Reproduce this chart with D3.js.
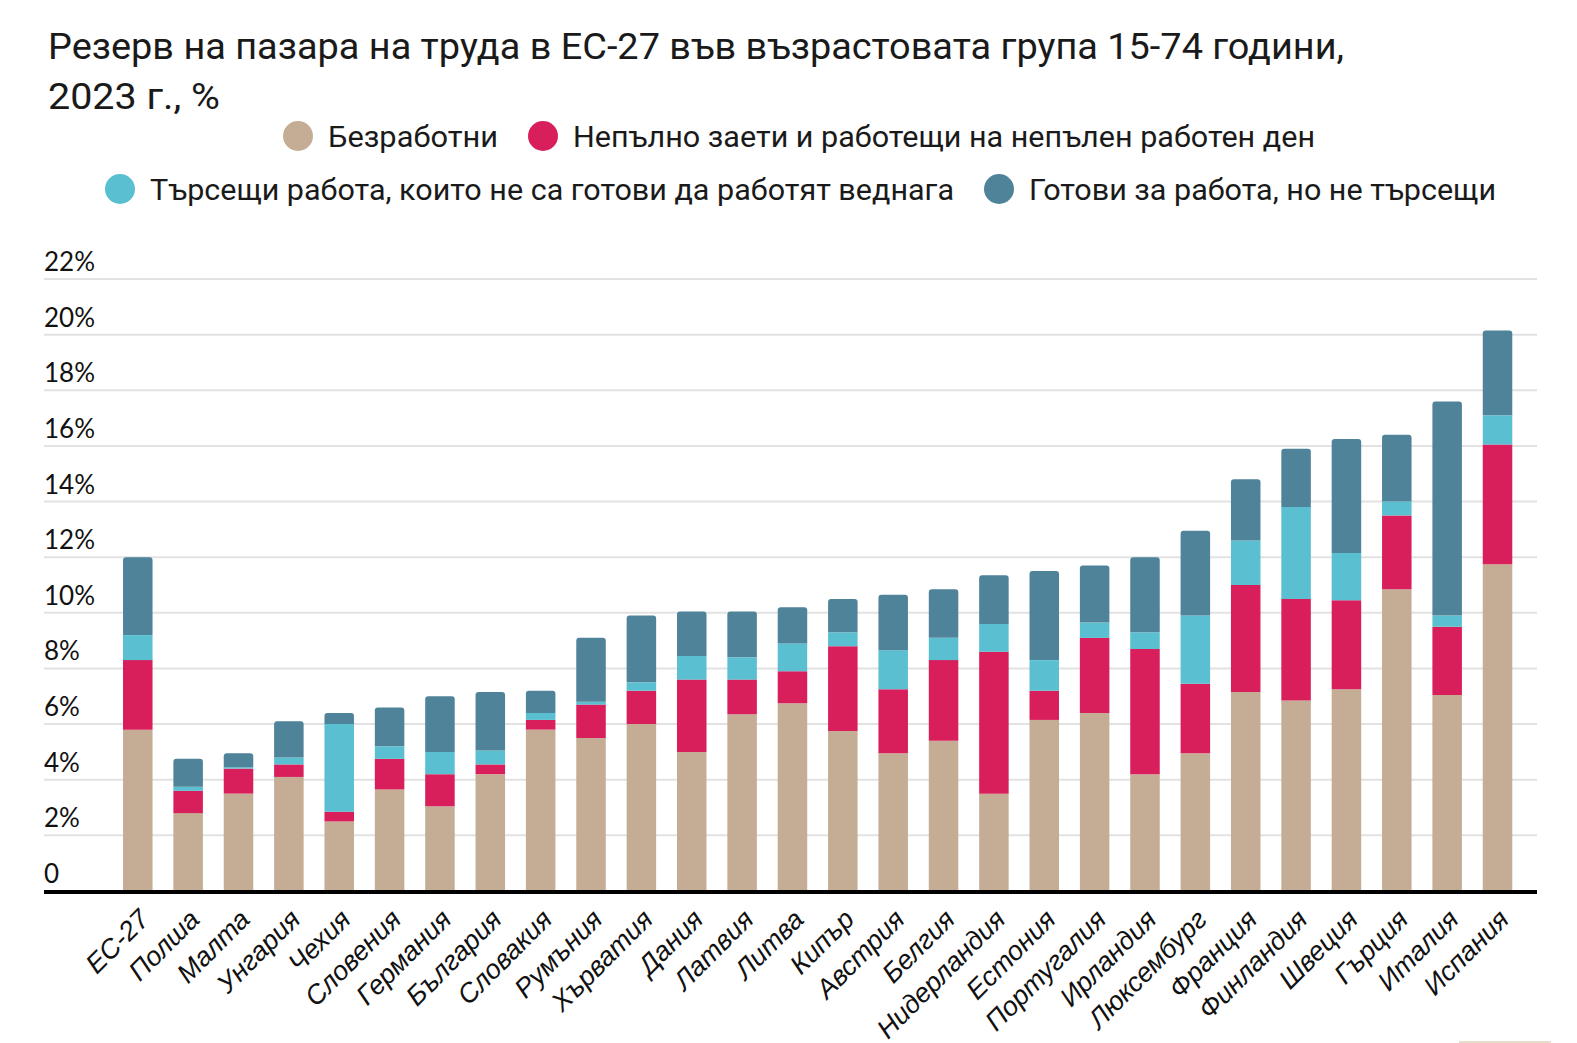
<!DOCTYPE html>
<html>
<head>
<meta charset="utf-8">
<script src="https://cdn.jsdelivr.net/npm/d3@7"></script>
<style>
  html, body { margin: 0; padding: 0; background: #fff; }
  svg { display: block; }
</style>
</head>
<body>
<svg id="chart" width="1577" height="1043"></svg>
<script>
// ---- DATA ----
const countries = ["ЕС-27","Полша","Малта","Унгария","Чехия","Словения","Германия","България","Словакия","Румъния","Хърватия","Дания","Латвия","Литва","Кипър","Австрия","Белгия","Нидерландия","Естония","Португалия","Ирландия","Люксембург","Франция","Финландия","Швеция","Гърция","Италия","Испания"];
const seriesNames = ["Безработни","Непълно заети и работещи на непълен работен ден","Търсещи работа, които не са готови да работят веднага","Готови за работа, но не търсещи"];
const unemployed   = [5.8,2.8,3.5,4.1,2.5,3.65,3.05,4.2,5.8,5.5,6.0,5.0,6.35,6.75,5.75,4.95,5.4,3.5,6.15,6.4,4.2,4.95,7.15,6.85,7.25,10.85,7.05,11.75];
const underemployed= [2.5,0.8,0.9,0.45,0.35,1.1,1.15,0.35,0.35,1.2,1.2,2.6,1.25,1.15,3.05,2.3,2.9,5.1,1.05,2.7,4.5,2.5,3.85,3.65,3.2,2.65,2.45,4.3];
const seekingNotAvailable = [0.9,0.15,0.05,0.25,3.15,0.45,0.8,0.5,0.25,0.1,0.3,0.85,0.8,1.0,0.5,1.4,0.8,1.0,1.1,0.55,0.6,2.45,1.6,3.3,1.7,0.5,0.4,1.05];
const availableNotSeeking = [2.8,1.0,0.5,1.3,0.4,1.4,2.0,2.1,0.8,2.3,2.4,1.6,1.65,1.3,1.2,2.0,1.75,1.75,3.2,2.05,2.7,3.05,2.2,2.1,4.1,2.4,7.7,3.05];
const yTicks = [0,2,4,6,8,10,12,14,16,18,20,22];
const colors = ["#c4ad94","#d81f5b","#59bfd1","#4f8399"];

// ---- BUILD ----
const keys = ["u","p","s","a"];
const rows = countries.map((c,i)=>({country:c, u:unemployed[i], p:underemployed[i], s:seekingNotAvailable[i], a:availableNotSeeking[i]}));
const stacked = d3.stack().keys(keys)(rows);

const svg = d3.select("#chart");
const left = 44, right = 1537, axisY = 891;

const x = d3.scaleBand().domain(countries).range([112.6, 1522.7]).paddingInner(0.414).paddingOuter(0.207);
const y = d3.scaleLinear().domain([0,22]).range([axisY, 279]);

// Title
const title = svg.append("g").attr("font-family","Roboto, 'Noto Sans', sans-serif").attr("fill","#1a1a1a").attr("font-size",37);
title.append("text").attr("x",48).attr("y",59).attr("textLength",1296).attr("lengthAdjust","spacingAndGlyphs")
  .text("Резерв на пазара на труда в ЕС-27 във възрастовата група 15-74 години,");
title.append("text").attr("x",48).attr("y",109).attr("textLength",172).attr("lengthAdjust","spacingAndGlyphs")
  .text("2023 г., %");

// Legend
const legendItems = [
  {i:0, cx:298, cy:136, w:170},
  {i:1, cx:543, cy:136, w:742},
  {i:2, cx:120, cy:189, w:804},
  {i:3, cx:999, cy:189, w:467}
];
const lg = svg.append("g").attr("font-family","Roboto, 'Noto Sans', sans-serif").attr("font-size",30).attr("fill","#1a1a1a");
legendItems.forEach(d=>{
  lg.append("circle").attr("cx",d.cx).attr("cy",d.cy).attr("r",15).attr("fill",colors[d.i]);
  lg.append("text").attr("x",d.cx+30).attr("y",d.cy+11)
    .attr("textLength",d.w).attr("lengthAdjust","spacingAndGlyphs").text(seriesNames[d.i]);
});

// Gridlines + y labels
const grid = svg.append("g");
yTicks.forEach(t=>{
  if (t>0) grid.append("line").attr("x1",left).attr("x2",right).attr("y1",y(t)).attr("y2",y(t))
    .attr("stroke","#e2e2e2").attr("stroke-width",2);
  grid.append("text").attr("x",left).attr("y",y(t)-8)
    .attr("font-family","Lato, 'Noto Sans', sans-serif").attr("font-size",26).attr("fill","#111")
    .text(t===0 ? "0" : t+"%");
});

// Bars
function roundTop(x0,y0,w,h,r){
  r = Math.min(r,h,w/2);
  return `M${x0},${y0+h}V${y0+r}Q${x0},${y0} ${x0+r},${y0}H${x0+w-r}Q${x0+w},${y0} ${x0+w},${y0+r}V${y0+h}Z`;
}
const bars = svg.append("g");
stacked.forEach((layer,li)=>{
  bars.append("g").attr("fill",colors[li]).selectAll("path").data(layer).join("path")
    .attr("d",d=>{
      const x0 = x(d.data.country), w = x.bandwidth();
      const yt = y(d[1]), yb = y(d[0]);
      const h = yb - yt;
      if (li===keys.length-1) return roundTop(x0,yt,w,h,3);
      return `M${x0},${yt}H${x0+w}V${yb}H${x0}Z`;
    });
});

// Axis line
svg.append("line").attr("x1",left).attr("x2",right).attr("y1",axisY+1).attr("y2",axisY+1)
  .attr("stroke","#000").attr("stroke-width",4);

// X labels
const xl = svg.append("g").attr("font-family","'Liberation Sans', Arial, sans-serif").attr("font-style","italic")
  .attr("font-size",27).attr("fill","#111");
countries.forEach(c=>{
  const cx = x(c) + x.bandwidth()/2;
  xl.append("text").attr("text-anchor","end")
    .attr("transform",`translate(${cx+13},${axisY+30}) rotate(-45)`)
    .text(c);
});

// faint artifact line at bottom right
svg.append("rect").attr("x",1459).attr("y",1041).attr("width",92).attr("height",2).attr("fill","#e8dccb");
</script>
</body>
</html>
